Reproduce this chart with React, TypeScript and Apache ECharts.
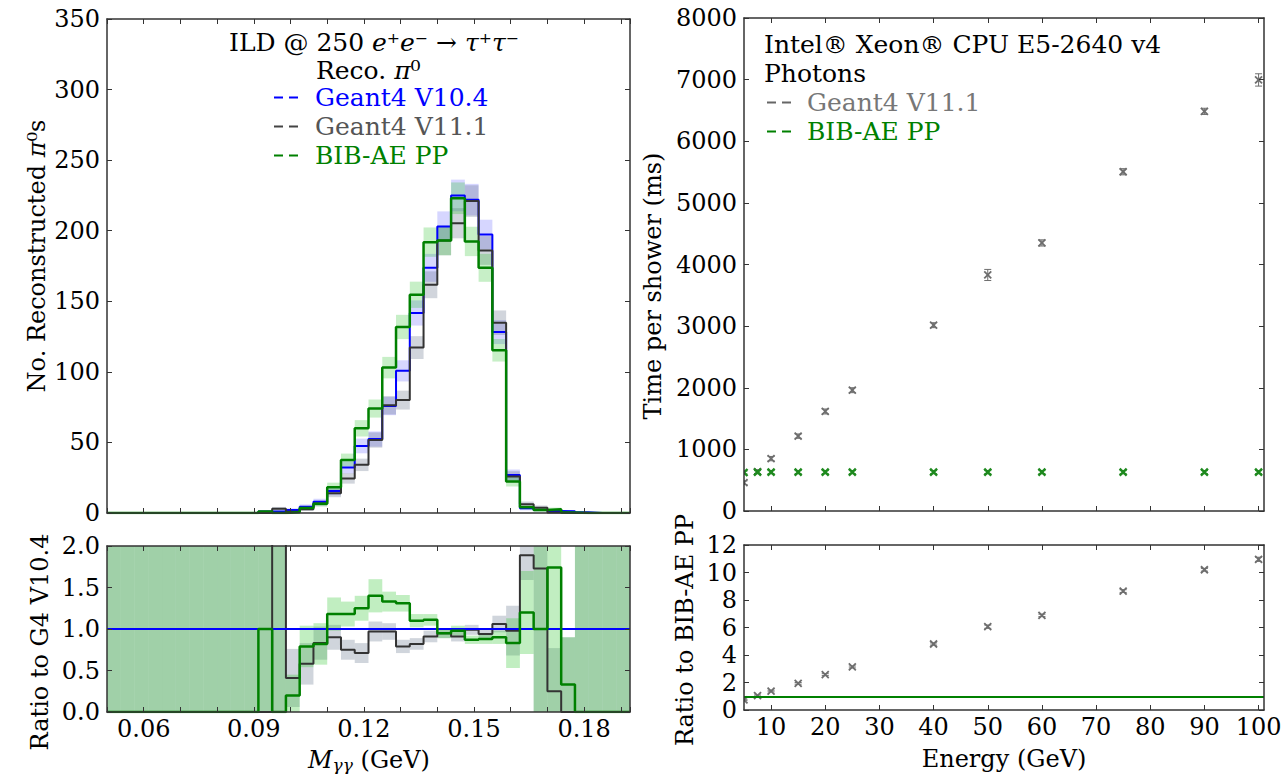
import React, { useEffect, useRef } from 'react';
import * as echarts from 'echarts';

// ---------- data ----------
const BIN_START = 0.05;
const BIN_WIDTH = 0.00375;
const MASS_MIN = 0.05;
const MASS_MAX = 0.1925;

const g4v104Counts = [0,0,0,0,0,0,0,0,0,0, 0,1,1,2.2,4.5,8,15.6,32.3,47.5,52.4, 75.8,100.7,141.7,173.7,203,225,222,197.3,128.2,26.9, 3.3,2.2,1.5,1.2,0.5,0,0,0];
const g4v111Counts = [0,0,0,0,0,0,0,0,0,0, 0,0,3,0.9,2.6,6.8,14,24.5,34.1,51.7, 76.3,80,117.2,161.7,193,205.3,221,186,134.8,25.8, 6.2,3.8,0.4,0,0,0,0,0];
const bibaeCounts = [0,0,0,0,0,0,0,0,0,0, 0,1,0,0.45,3.5,6.6,18.3,37.5,60,74, 103,131.8,154.6,191.9,193,223,192.4,173.7,115.3,22.3, 4,2.2,2.6,0.4,0,0,0,0];

const g4v104Err = [0,0,0,0,0,0,0,0,0,0, 0,0.8,0.8,1.1,1.6,2.1,3,4.3,5.2,5.4, 6.5,7.5,8.9,9.9,10.7,11.2,11.2,10.5,8.5,3.9, 1.4,1.1,0.9,0.8,0.5,0,0,0];
const g4v111Err = [0,0,0,0,0,0,0,0,0,0, 0,0,1.3,0.7,1.2,2,2.8,3.7,4.4,5.4, 6.5,6.7,8.1,9.5,10.4,10.7,11.2,10.2,8.7,3.8, 1.9,1.5,0.5,0,0,0,0,0];
const bibaeErr = [0,0,0,0,0,0,0,0,0,0, 0,0.8,0,0.5,1.4,1.9,3.2,4.6,5.8,6.4, 7.6,8.6,9.3,10.4,10.4,11.2,10.4,9.9,8,3.5, 1.5,1.1,1.2,0.5,0,0,0,0];

const ratioG4v111 = [0,0,0,0,0,0,0,0,0,0, 0,0,3,0.41,0.58,0.83,0.9,0.75,0.71,0.97, 0.97,0.79,0.82,0.91,0.95,0.91,0.99,0.94,1.06,0.98, 1.89,1.73,0.25,0,0,0,0,0];
const ratioBibae = [0,0,0,0,0,0,0,0,0,0, 0,1.0,0,0.2,0.79,0.82,1.18,1.18,1.25,1.40, 1.33,1.31,1.10,1.11,0.95,0.98,0.87,0.88,0.90,0.83, 1.20,1.0,1.74,0.33,0,0,0,0];
// half widths of the ratio uncertainty bands (9 = whole panel)
const ratioG4v111Err = [9,9,9,9,9,9,9,9,9,9, 9,9,9,0.35,0.25,0.2,0.15,0.12,0.12,0.12, 0.1,0.08,0.07,0.07,0.06,0.06,0.06,0.07,0.1,0.3, 0.3,9,0.52,0.9,9,9,9,9];
const ratioBibaeErr = [9,9,9,9,9,9,9,9,9,9, 9,9,9,0.25,0.25,0.25,0.2,0.15,0.15,0.2, 0.12,0.1,0.08,0.07,0.06,0.06,0.05,0.06,0.08,0.3, 0.5,9,9,0.57,9,9,9,9];

const energies = [5, 7.5, 10, 15, 20, 25, 40, 50, 60, 75, 90, 100];
const timeG4v111 = [460, 640, 850, 1215, 1615, 1960, 3015, 3830, 4350, 5505, 6485, 6995];
const timeG4v111Err = [30, 30, 35, 35, 40, 40, 40, 90, 50, 50, 50, 100];
const timeBibae = [625, 630, 630, 630, 630, 630, 630, 630, 630, 630, 630, 630];
const timeBibaeErr = [25, 25, 25, 25, 25, 25, 25, 25, 25, 25, 25, 25];
const timeRatio = [0.73, 1.04, 1.38, 1.94, 2.57, 3.13, 4.8, 6.06, 6.88, 8.65, 10.2, 10.96];
const timeRatioErr = [0.05, 0.05, 0.06, 0.06, 0.07, 0.07, 0.08, 0.12, 0.09, 0.1, 0.1, 0.15];

const energyTicks = [10, 20, 30, 40, 50, 60, 70, 80, 90, 100];

// ---------- styles ----------
const FONT = 'DejaVu Serif';
const AX = '#333333';
const BLUE = '#0000ff';
const BLACK = '#333333';
const GREEN = '#008000';
const GRAY_MK = '#6e6e6e';
const GREEN_MK = '#1f8a1f';

function axis(kind: 'x' | 'y', gridIndex: number, position: string, min: number, max: number, showLabel: boolean, opts: any = {}) {
  const a: any = {
    type: 'value', gridIndex, position, min, max, z: 10,
    axisLine: { show: true, onZero: false, lineStyle: { color: AX, width: 1.5 } },
    axisTick: { show: true, inside: true, length: 5, lineStyle: { color: AX, width: 1 } },
    axisLabel: {
      show: showLabel, fontFamily: FONT, fontSize: 24, color: '#000', margin: kind === 'x' ? 5 : 7,
      formatter: (v: number) => String(v),
    },
    splitLine: { show: false },
  };
  if (opts.interval !== undefined) a.interval = opts.interval;
  if (opts.formatter) a.axisLabel.formatter = opts.formatter;
  if (opts.customValues) {
    a.axisTick.customValues = opts.customValues;
    a.axisLabel.customValues = opts.customValues;
  }
  return a;
}

const massFmt = (v: number) => {
  const c = Math.round(v * 100);
  return Math.abs(v * 100 - c) < 1e-6 && c % 3 === 0 ? (c / 100).toFixed(2) : '';
};

function stepData(vals: number[]) {
  const d = vals.map((v, k) => [BIN_START + k * BIN_WIDTH, v]);
  d.push([BIN_START + vals.length * BIN_WIDTH, vals[vals.length - 1]]);
  return d;
}

function stepSeries(xi: number, yi: number, vals: number[], color: string, width: number, z: number, extra: any = {}) {
  return {
    type: 'line', xAxisIndex: xi, yAxisIndex: yi, step: 'end', symbol: 'none', clip: true, z,
    silent: true, data: stepData(vals), lineStyle: { color, width }, ...extra,
  };
}

function bandSeries(xi: number, yi: number, centers: number[], errs: number[], color: string, z: number) {
  const data = centers
    .map((c, k) => [BIN_START + k * BIN_WIDTH, BIN_START + (k + 1) * BIN_WIDTH, c, errs[k]])
    .filter((d) => d[3] > 0);
  return {
    type: 'custom', xAxisIndex: xi, yAxisIndex: yi, z, silent: true, data,
    encode: { x: [0, 1], y: [2] },
    renderItem: (params: any, api: any) => {
      const x0 = api.value(0), x1 = api.value(1), c = api.value(2), h = api.value(3);
      const a = api.coord([x0, c + h]);
      const b = api.coord([x1, c - h]);
      const cs = params.coordSys;
      const shape = echarts.graphic.clipRectByRect(
        { x: a[0], y: a[1], width: b[0] - a[0], height: b[1] - a[1] },
        { x: cs.x, y: cs.y, width: cs.width, height: cs.height }
      );
      if (!shape) return null;
      return { type: 'rect', shape, style: { fill: color } };
    },
  };
}

function markerSeries(xi: number, yi: number, xs: number[], ys: number[], es: number[], color: string, lw: number, z: number, extra: any = {}) {
  const data = xs.map((x, i) => [x, ys[i], es[i]]);
  return {
    type: 'custom', xAxisIndex: xi, yAxisIndex: yi, z, silent: true, clip: true, data,
    encode: { x: 0, y: 1 },
    renderItem: (params: any, api: any) => {
      const x = api.value(0), y = api.value(1), e = api.value(2);
      const p = api.coord([x, y]);
      const t = api.coord([x, y + e]);
      const b = api.coord([x, y - e]);
      const s = 3.5;
      const st = { stroke: color, lineWidth: lw };
      return {
        type: 'group',
        children: [
          { type: 'line', shape: { x1: p[0] - s, y1: p[1] - s, x2: p[0] + s, y2: p[1] + s }, style: st },
          { type: 'line', shape: { x1: p[0] - s, y1: p[1] + s, x2: p[0] + s, y2: p[1] - s }, style: st },
          { type: 'line', shape: { x1: p[0], y1: t[1], x2: p[0], y2: b[1] }, style: { stroke: color, lineWidth: 1 } },
          { type: 'line', shape: { x1: p[0] - s, y1: t[1], x2: p[0] + s, y2: t[1] }, style: { stroke: color, lineWidth: 1 } },
          { type: 'line', shape: { x1: p[0] - s, y1: b[1], x2: p[0] + s, y2: b[1] }, style: { stroke: color, lineWidth: 1 } },
        ],
      };
    },
    ...extra,
  };
}

function txt(x: number, y: number, text: string, color: string, extra: any = {}) {
  return {
    type: 'text', x, y, z: 20,
    style: { text, fill: color, font: `25px "${FONT}"`, align: 'left', verticalAlign: 'middle', ...extra },
  };
}

function dash(x1: number, x2: number, y: number, color: string) {
  return { type: 'line', z: 20, shape: { x1, y1: y, x2, y2: y }, style: { stroke: color, lineWidth: 2, lineDash: [9, 6] } };
}

const richBase = (size: number) => ({
  a: { fontFamily: FONT, fontSize: size, fill: '#000' },
  m: { fontFamily: FONT, fontSize: size, fontStyle: 'italic', fill: '#000' },
  s: { fontFamily: FONT, fontSize: Math.round(size * 0.7), fontStyle: 'italic', fill: '#000', padding: [10, 0, 0, 0] },
});

function buildOption() {
  const grids = [
    { left: 107, top: 19, width: 523, height: 494 },
    { left: 107, top: 546, width: 523, height: 166 },
    { left: 744, top: 18, width: 520, height: 493 },
    { left: 744, top: 545, width: 520, height: 165 },
  ].map((g) => ({ ...g, containLabel: false, outerBoundsMode: 'none' }));

  const xAxis = [
    axis('x', 0, 'bottom', MASS_MIN, MASS_MAX, false, { interval: 0.01 }),
    axis('x', 0, 'top', MASS_MIN, MASS_MAX, false, { interval: 0.01 }),
    axis('x', 1, 'bottom', MASS_MIN, MASS_MAX, true, { interval: 0.01, formatter: massFmt }),
    axis('x', 1, 'top', MASS_MIN, MASS_MAX, false, { interval: 0.01 }),
    axis('x', 2, 'bottom', 5, 101, false, { customValues: energyTicks }),
    axis('x', 2, 'top', 5, 101, false, { customValues: energyTicks }),
    axis('x', 3, 'bottom', 5, 101, true, { customValues: energyTicks }),
    axis('x', 3, 'top', 5, 101, false, { customValues: energyTicks }),
  ];
  const yAxis = [
    axis('y', 0, 'left', 0, 350, true, { interval: 50 }),
    axis('y', 0, 'right', 0, 350, false, { interval: 50 }),
    axis('y', 1, 'left', 0, 2, true, { interval: 0.5, formatter: (v: number) => v.toFixed(1) }),
    axis('y', 1, 'right', 0, 2, false, { interval: 0.5 }),
    axis('y', 2, 'left', 0, 8000, true, { interval: 1000 }),
    axis('y', 2, 'right', 0, 8000, false, { interval: 1000 }),
    axis('y', 3, 'left', 0, 12, true, { interval: 2 }),
    axis('y', 3, 'right', 0, 12, false, { interval: 2 }),
  ];

  const series: any[] = [
    // top-left histogram bands
    bandSeries(0, 0, g4v104Counts, g4v104Err, 'rgba(0,0,255,0.16)', 1),
    bandSeries(0, 0, g4v111Counts, g4v111Err, 'rgba(90,105,130,0.28)', 1),
    bandSeries(0, 0, bibaeCounts, bibaeErr, 'rgba(20,190,20,0.24)', 1),
    stepSeries(0, 0, g4v104Counts, BLUE, 2, 3),
    stepSeries(0, 0, g4v111Counts, BLACK, 2, 4),
    stepSeries(0, 0, bibaeCounts, GREEN, 2.5, 5),
    // ratio panel
    bandSeries(2, 2, ratioG4v111, ratioG4v111Err, 'rgba(100,115,140,0.3)', 1),
    bandSeries(2, 2, ratioBibae, ratioBibaeErr, 'rgba(50,200,50,0.3)', 1),
    stepSeries(2, 2, ratioG4v111, BLACK, 2, 4, {
      markLine: {
        silent: true, symbol: ['none', 'none'], label: { show: false },
        lineStyle: { color: BLUE, width: 2, type: 'solid' }, data: [{ yAxis: 1 }],
      },
    }),
    stepSeries(2, 2, ratioBibae, GREEN, 2.5, 5),
    // timing
    markerSeries(4, 4, energies, timeG4v111, timeG4v111Err, GRAY_MK, 1.8, 4),
    markerSeries(4, 4, energies, timeBibae, timeBibaeErr, GREEN_MK, 2.4, 5),
    markerSeries(6, 6, energies, timeRatio, timeRatioErr, GRAY_MK, 1.8, 4, {
      markLine: {
        silent: true, symbol: ['none', 'none'], label: { show: false },
        lineStyle: { color: GREEN, width: 2, type: 'solid' }, data: [{ yAxis: 1 }],
      },
    }),
  ];

  const graphic: any[] = [
    // left legend
    { type: 'text', x: 229, y: 42, z: 20, style: { text: '{a|ILD @ 250 }{m|e⁺e⁻ → τ⁺τ⁻}', rich: richBase(25), verticalAlign: 'middle', align: 'left' } },
    { type: 'text', x: 316, y: 70, z: 20, style: { text: '{a|Reco. }{m|π}{a|⁰}', rich: richBase(25), verticalAlign: 'middle', align: 'left' } },
    dash(274, 299, 97.5, BLUE),
    txt(315, 97.5, 'Geant4 V10.4', BLUE),
    dash(274, 299, 126.5, '#444444'),
    txt(315, 126.5, 'Geant4 V11.1', '#555555'),
    dash(274, 299, 155.5, GREEN),
    txt(315, 155.5, 'BIB-AE PP', GREEN),
    // right legend
    txt(764, 44, 'Intel® Xeon® CPU E5-2640 v4', '#000'),
    txt(764, 73, 'Photons', '#000'),
    dash(767, 792, 102.5, '#666666'),
    txt(807, 102.5, 'Geant4 V11.1', '#777777'),
    dash(767, 792, 131.5, GREEN),
    txt(807, 131.5, 'BIB-AE PP', GREEN),
    // axis titles
    { type: 'text', x: 37, y: 256, rotation: Math.PI / 2, z: 20, style: { text: '{a|No. Reconstructed }{m|π}{a|⁰s}', rich: richBase(24), align: 'center', verticalAlign: 'middle' } },
    { type: 'text', x: 40, y: 642, rotation: Math.PI / 2, z: 20, style: { text: 'Ratio to G4 V10.4', fill: '#000', font: `24px "${FONT}"`, align: 'center', verticalAlign: 'middle' } },
    { type: 'text', x: 653, y: 286, rotation: Math.PI / 2, z: 20, style: { text: 'Time per shower (ms)', fill: '#000', font: `24px "${FONT}"`, align: 'center', verticalAlign: 'middle' } },
    { type: 'text', x: 685, y: 630, rotation: Math.PI / 2, z: 20, style: { text: 'Ratio to BIB-AE PP', fill: '#000', font: `24px "${FONT}"`, align: 'center', verticalAlign: 'middle' } },
    { type: 'text', x: 369, y: 760, z: 20, style: { text: '{m|M}{s|γγ}{a| (GeV)}', rich: richBase(24), align: 'center', verticalAlign: 'middle' } },
    { type: 'text', x: 1004, y: 759, z: 20, style: { text: 'Energy (GeV)', fill: '#000', font: `24px "${FONT}"`, align: 'center', verticalAlign: 'middle' } },
  ];

  return {
    animation: false,
    backgroundColor: '#ffffff',
    textStyle: { fontFamily: FONT },
    grid: grids,
    xAxis,
    yAxis,
    series,
    graphic,
  };
}

export default function App() {
  const ref = useRef<HTMLDivElement>(null);
  useEffect(() => {
    document.body.style.margin = '0';
    const chart = echarts.init(ref.current as HTMLDivElement, null, { renderer: 'svg' });
    chart.setOption(buildOption() as any);
    return () => chart.dispose();
  }, []);
  return <div ref={ref} style={{ width: 1286, height: 774 }} />;
}
